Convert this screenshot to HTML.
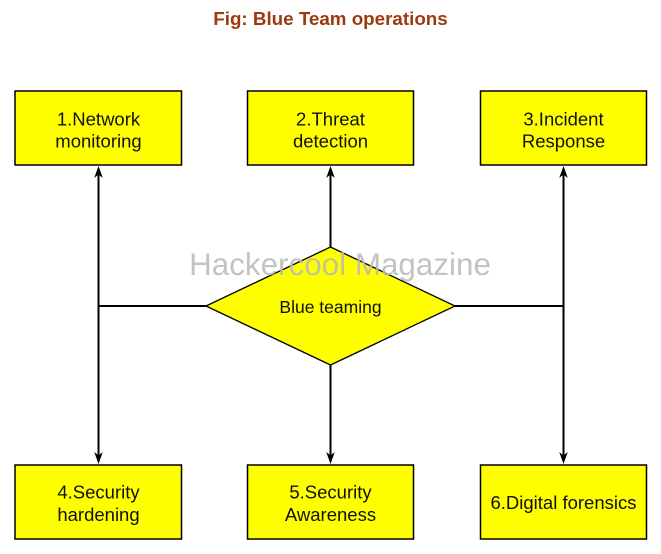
<!DOCTYPE html>
<html>
<head>
<meta charset="utf-8">
<style>
html,body{margin:0;padding:0;background:#fff;}
svg{display:block;}
</style>
</head>
<body>
<svg width="661" height="554" viewBox="0 0 661 554" xmlns="http://www.w3.org/2000/svg">
  <rect width="661" height="554" fill="#fff"/>
  <text x="330.5" y="25" text-anchor="middle" font-family="Liberation Sans, Arial, sans-serif" font-weight="bold" font-size="18.8" fill="#9c3a0e">Fig: Blue Team operations</text>

  <!-- connectors -->
  <g stroke="#000" stroke-width="2" fill="none">
    <line x1="98.5" y1="306" x2="206" y2="306"/>
    <line x1="455" y1="306" x2="563.5" y2="306"/>
    <line x1="98.5" y1="172" x2="98.5" y2="457"/>
    <line x1="330.5" y1="247" x2="330.5" y2="172"/>
    <line x1="330.5" y1="365" x2="330.5" y2="457"/>
    <line x1="563.5" y1="172" x2="563.5" y2="457"/>
  </g>
  <g fill="#000">
    <polygon points="98.5,166 94.2,178 98.5,174.5 102.8,178"/>
    <polygon points="330.5,166 326.2,178 330.5,174.5 334.8,178"/>
    <polygon points="563.5,166 559.2,178 563.5,174.5 567.8,178"/>
    <polygon points="98.5,464 94.2,452 98.5,455.5 102.8,452"/>
    <polygon points="330.5,464 326.2,452 330.5,455.5 334.8,452"/>
    <polygon points="563.5,464 559.2,452 563.5,455.5 567.8,452"/>
  </g>

  <!-- boxes -->
  <g stroke="#000" stroke-width="1.5" fill="#ffff00">
    <rect x="15" y="91" width="166.5" height="74"/>
    <rect x="247.5" y="91" width="166" height="74"/>
    <rect x="480.5" y="91" width="166" height="74"/>
    <rect x="15" y="465" width="166.5" height="74"/>
    <rect x="247.5" y="465" width="166" height="74"/>
    <rect x="480.5" y="465" width="166" height="74"/>
  </g>

  <!-- diamond -->
  <polygon points="330.5,247 455,306 330.5,365 206,306" fill="#ffff00" stroke="#000" stroke-width="1.3"/>

  <g font-family="Liberation Sans, Arial, sans-serif" font-size="18.5" fill="#111" text-anchor="middle">
    <text x="98.5" y="125.5">1.Network</text>
    <text x="98.5" y="147.5">monitoring</text>
    <text x="330.5" y="125.5">2.Threat</text>
    <text x="330.5" y="147.5">detection</text>
    <text x="563.5" y="125.5">3.Incident</text>
    <text x="563.5" y="147.5">Response</text>
    <text x="98.5" y="498.5">4.Security</text>
    <text x="98.5" y="521">hardening</text>
    <text x="330.5" y="498.5">5.Security</text>
    <text x="330.5" y="521">Awareness</text>
    <text x="563.5" y="509">6.Digital forensics</text>
  </g>
  <text x="330.5" y="313" text-anchor="middle" font-family="Liberation Sans, Arial, sans-serif" font-size="17.5" fill="#111">Blue teaming</text>

  <!-- watermark -->
  <text x="340" y="275" text-anchor="middle" font-family="Liberation Sans, Arial, sans-serif" font-size="31.4" fill="#b8b8b8" fill-opacity="0.85">Hackercool Magazine</text>
</svg>
</body>
</html>
